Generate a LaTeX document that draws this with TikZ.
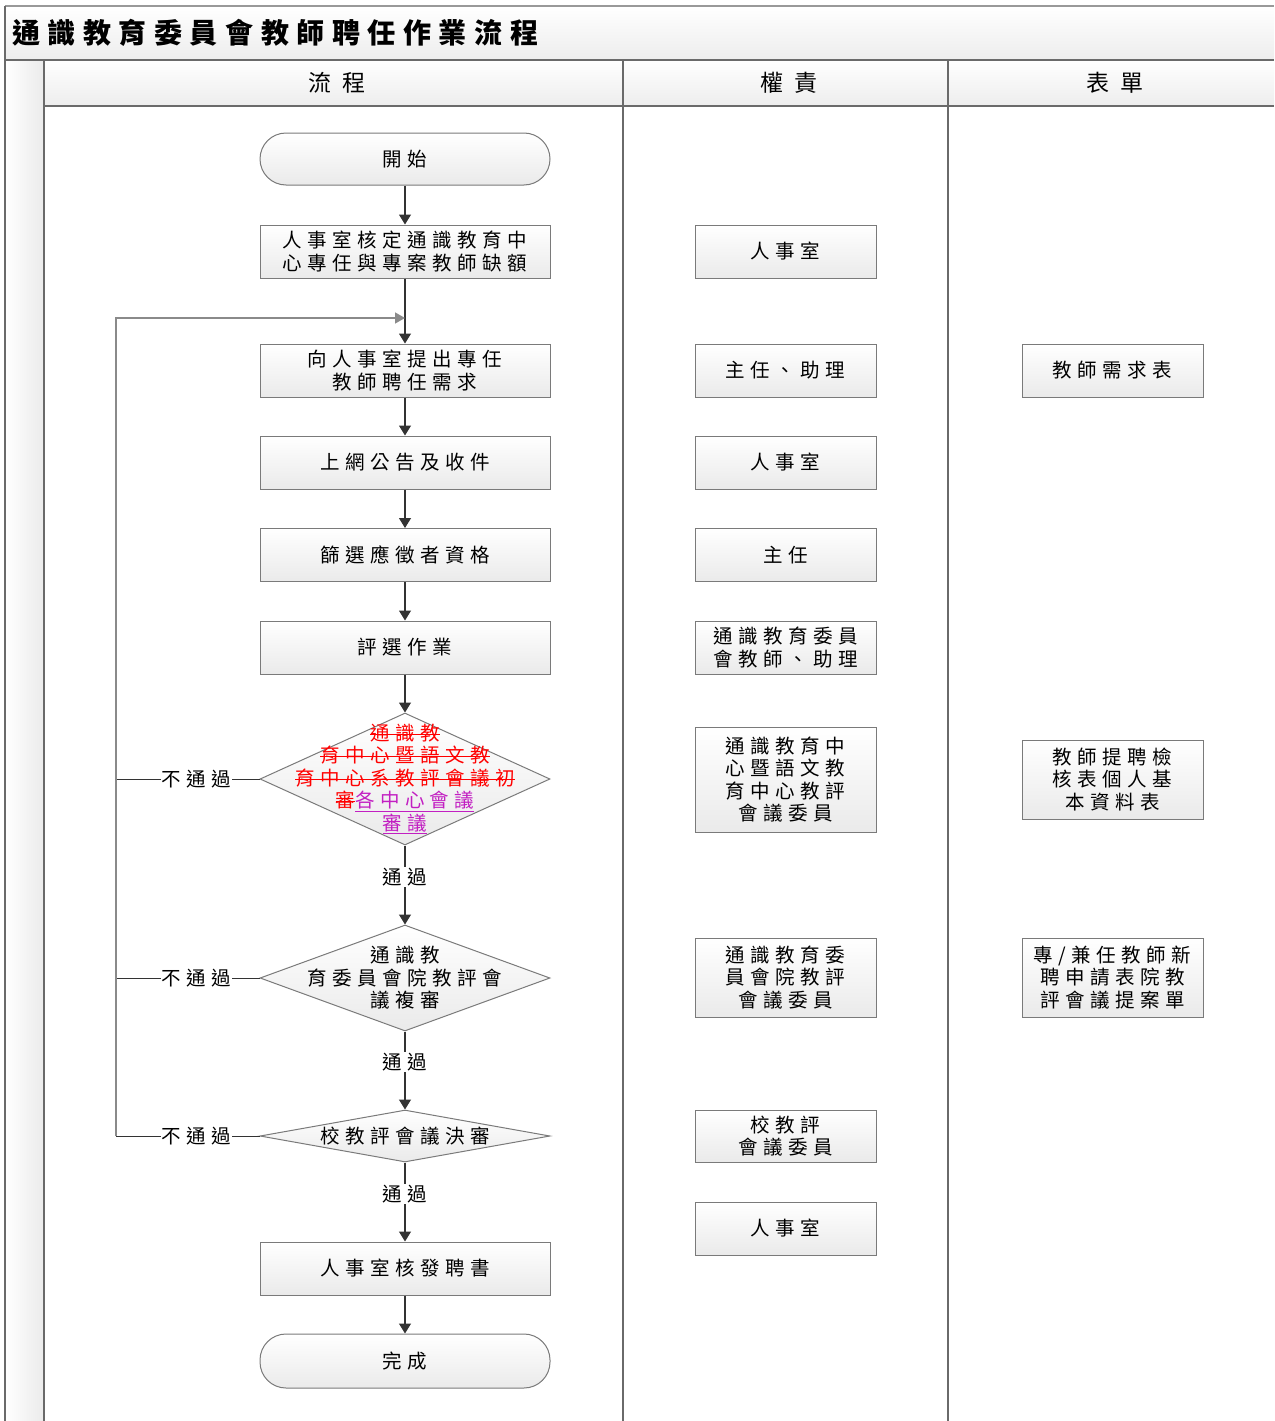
\documentclass[tikz,border=0pt]{standalone}
\usepackage{fontspec}
\usetikzlibrary{arrows.meta,shapes.geometric}
\newfontfamily\cjk[LetterSpace=28]{Noto Sans CJK TC}
\newfontfamily\cjkhead[LetterSpace=52]{Noto Sans CJK TC}
\newfontfamily\cjktitle[LetterSpace=27]{Noto Sans CJK TC}
\newcommand\fs{\fontsize{19.5}{22.5}\selectfont}
\definecolor{boxgray}{HTML}{7A7A7A}
\definecolor{boxbot}{HTML}{EAEAEA}
\definecolor{conngray}{HTML}{333333}
\definecolor{framegray}{HTML}{6A6A6A}
\definecolor{loopgray}{HTML}{8A8A8A}
\definecolor{mag}{HTML}{C21FC2}
\newcommand\stk[1]{{\color{red}\setbox0\hbox{#1}\rlap{\rule[0.3em]{\wd0}{0.7pt}}\box0}}
\newcommand\und[1]{{\color{mag}\setbox0\hbox{#1}\rlap{\rule[-0.2em]{\wd0}{0.7pt}}\box0}}
\begin{document}
\begin{tikzpicture}[x=1pt,y=-1pt,
  box/.style={draw=boxgray, line width=1pt, top color=white, bottom color=boxbot,
    minimum width=290, minimum height=53, inner sep=0, font=\cjk\fs, align=center},
  rbox/.style={box, minimum width=181},
  term/.style={box, rounded corners=26, minimum height=52},
  dia/.style={shape=diamond, draw=boxgray, line width=1pt, top color=white, bottom color=boxbot,
    minimum width=290, inner sep=0},
  dtext/.style={font=\cjk\fs, align=center, inner sep=0},
  conn/.style={draw=conngray, line width=1.2pt},
  arr/.style={conn, -{Triangle[length=10pt,width=12pt]}},
  loop/.style={draw=loopgray, line width=1.5pt},
  lbl/.style={fill=white, font=\cjk\fs, inner sep=1pt},
  head/.style={font=\cjkhead\fontsize{23}{26}\selectfont, inner sep=0}]
\useasboundingbox (0,0) rectangle (1274,1421);
% frame
\shade[top color=white, bottom color=black!7] (5,6) rectangle (1274,60);
\shade[top color=white, bottom color=black!7] (44,60) rectangle (1274,106);
\shade[left color=white, right color=black!8] (5,60) rectangle (44,1421);
\draw[black!40, line width=2pt] (5,6) -- (1274,6);
\draw[framegray, line width=2pt] (5,6) -- (5,1421);
\draw[framegray, line width=1.5pt] (5,60) -- (1274,60);
\draw[framegray, line width=1.5pt] (44,106) -- (1274,106);
\draw[framegray, line width=1.5pt] (44,60) -- (44,1421);
\draw[framegray, line width=1.5pt] (623,60) -- (623,1421);
\draw[framegray, line width=1.5pt] (948,60) -- (948,1421);
\node[anchor=west, inner sep=0, font=\cjktitle\bfseries\fontsize{28}{32}\selectfont] (title) at (12,33) {通識教育委員會教師聘任作業流程};
\node[head] (h1) at (337,83) {流程};
\node[head] (h2) at (789,83) {權責};
\node[head] (h3) at (1115,83) {表單};
% flow column
\node[term] (start) at (405,159) {開始};
\node[box] (b1) at (405,251.5) {人事室核定通識教育中\\心專任與專案教師缺額};
\node[box] (b2) at (405,370.5) {向人事室提出專任\\教師聘任需求};
\node[box] (b3) at (405,462.5) {上網公告及收件};
\node[box] (b4) at (405,555) {篩選應徵者資格};
\node[box] (b5) at (405,647.5) {評選作業};
\node[dia, minimum height=132] (d1) at (405,779) {};
\node[dtext] at (d1.center) {\stk{通識教}\\\stk{育中心暨語文教}\\\stk{育中心系教評會議初}\\\stk{審}\und{各中心會議}\\\und{審議}};
\node[dia, minimum height=106] (d2) at (405,978) {};
\node[dtext] at (d2.center) {通識教\\育委員會院教評會\\議複審};
\node[dia, minimum height=52] (d3) at (405,1136) {};
\node[dtext] at (d3.center) {校教評會議決審};
\node[box] (b6) at (405,1268.5) {人事室核發聘書};
\node[term, minimum height=54] (end) at (405,1361) {完成};
% responsibility column
\node[rbox] (r1) at (785.5,251.5) {人事室};
\node[rbox] (r2) at (785.5,370.5) {主任、助理};
\node[rbox] (r3) at (785.5,462.5) {人事室};
\node[rbox] (r4) at (785.5,555) {主任};
\node[rbox] (r5) at (785.5,647.5) {通識教育委員\\會教師、助理};
\node[rbox, minimum height=105] (r6) at (785.5,779.5) {通識教育中\\心暨語文教\\育中心教評\\會議委員};
\node[rbox, minimum height=79] (r7) at (785.5,977.5) {通識教育委\\員會院教評\\會議委員};
\node[rbox, minimum height=52] (r8) at (785.5,1136) {校教評\\會議委員};
\node[rbox] (r9) at (785.5,1228.5) {人事室};
% forms column
\node[rbox] (f1) at (1112.5,370.5) {教師需求表};
\node[rbox, minimum height=79] (f2) at (1112.5,779.5) {教師提聘檢\\核表個人基\\本資料表};
\node[rbox, minimum height=79] (f3) at (1112.5,977.5) {專/兼任教師新\\聘申請表院教\\評會議提案單};
% connectors
\draw[arr] (start) -- (b1);
\draw[arr] (b1) -- (b2);
\draw[arr] (b2) -- (b3);
\draw[arr] (b3) -- (b4);
\draw[arr] (b4) -- (b5);
\draw[arr] (b5) -- (d1.north);
\draw[arr] (d1.south) -- node[lbl, pos=0.4] {通過} (d2.north);
\draw[arr] (d2.south) -- node[lbl, pos=0.39] {通過} (d3.north);
\draw[arr] (d3.south) -- node[lbl, pos=0.4] {通過} (b6);
\draw[arr] (b6) -- (end);
% rejection loop
\coordinate (L1) at (116,779);
\coordinate (L2) at (116,978);
\coordinate (L3) at (116,1136);
\coordinate (Ltop) at (116,318);
\coordinate (join) at (405,318);
\draw[conn, line width=1pt] (d1.west) -- node[lbl, pos=0.44] {不通過} (L1);
\draw[conn, line width=1pt] (d2.west) -- node[lbl, pos=0.44] {不通過} (L2);
\draw[conn, line width=1pt] (d3.west) -- node[lbl, pos=0.44] {不通過} (L3);
\draw[loop, -{Triangle[length=10pt,width=11pt]}] (L3) -- (Ltop) -- (join);
\end{tikzpicture}
\end{document}
